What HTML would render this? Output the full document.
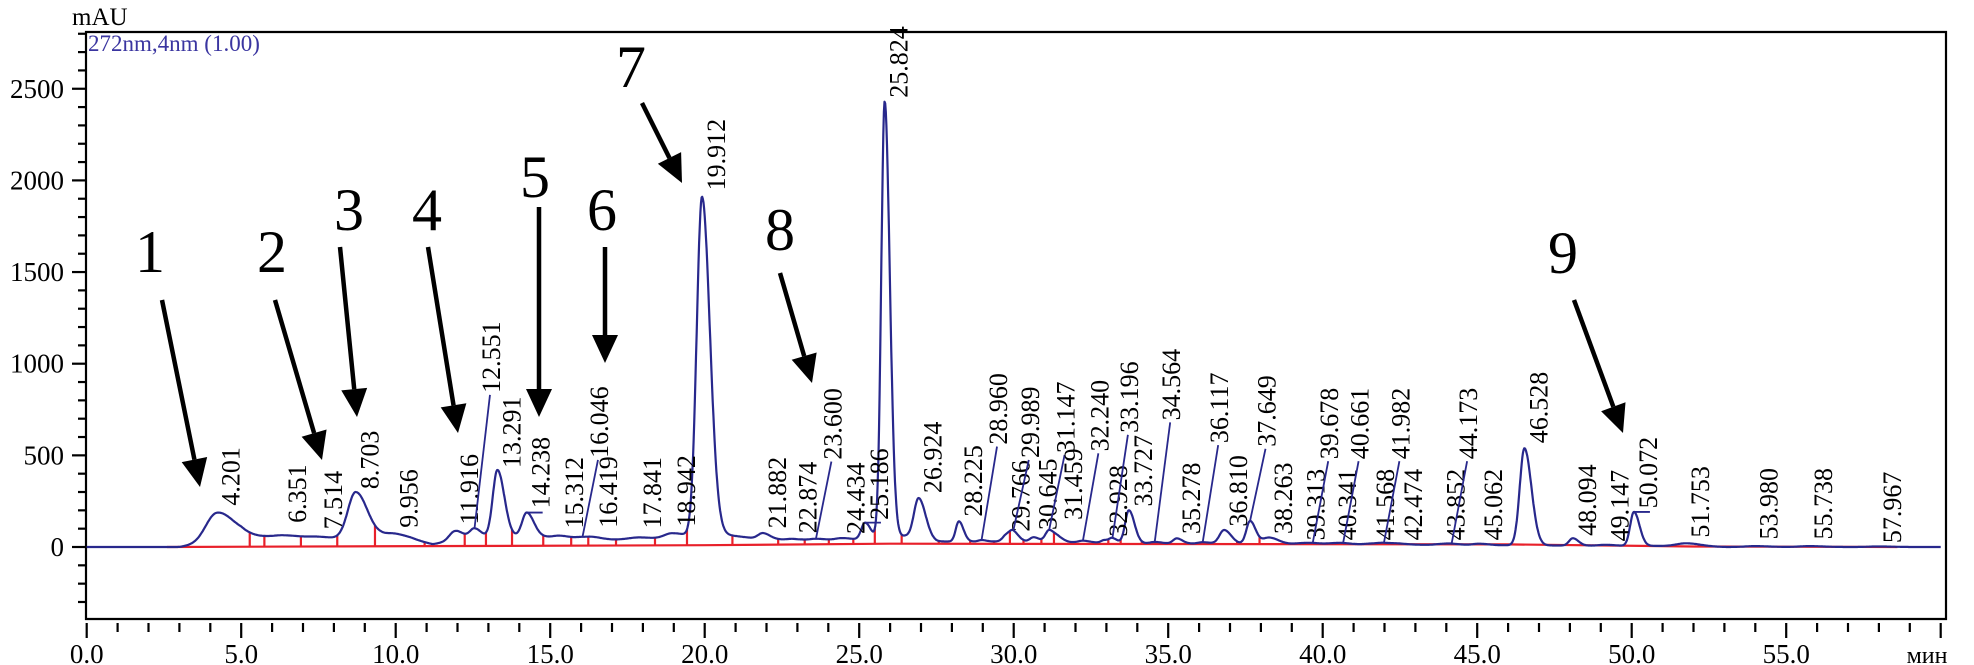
<!DOCTYPE html>
<html><head><meta charset="utf-8"><style>
html,body{margin:0;padding:0;background:#fff;}
svg{display:block;font-family:"Liberation Serif",serif;}
</style></head><body>
<svg id="chart" width="1974" height="665" viewBox="0 0 1974 665" xmlns="http://www.w3.org/2000/svg">
<text x="72" y="25" font-size="25">mAU</text>
<text x="88" y="51" font-size="23" fill="#3a35a0">272nm,4nm (1.00)</text>
<g id="axes"></g>
<g id="red"></g>
<g id="trace"></g>
<g id="labels"></g>
<g font-size="60" text-anchor="middle" fill="#000">
<text x="150" y="272">1</text>
<text x="272" y="272">2</text>
<text x="349" y="230">3</text>
<text x="427" y="230">4</text>
<text x="535" y="197">5</text>
<text x="602" y="230">6</text>
<text x="631" y="87">7</text>
<text x="780" y="250">8</text>
<text x="1563" y="273">9</text>
</g>
<g id="arrows"></g>
</svg>
<script>
const peakTimes=[4.201,6.351,7.514,8.703,9.956,11.916,12.551,13.291,14.238,15.312,16.046,16.419,17.841,18.942,19.912,21.882,22.874,23.600,24.434,25.186,25.824,26.924,28.225,28.960,29.766,29.989,30.645,31.147,31.459,32.240,32.928,33.196,33.727,34.564,35.278,36.117,36.810,37.649,38.263,39.313,39.678,40.341,40.661,41.568,41.982,42.474,43.852,44.173,45.062,46.528,48.094,49.147,50.072,51.753,53.980,55.738,57.967];
const peakHeights=[150,15,8,250,25,50,55,370,130,12,8,8,10,30,1850,30,8,8,10,90,2380,220,110,8,35,45,25,65,20,10,15,25,180,8,28,8,75,125,35,5,5,5,5,5,8,5,5,5,8,530,40,5,185,15,5,5,3];
const peakWidths=[0.35,0.4,0.3,0.25,0.3,0.18,0.15,0.15,0.15,0.2,0.2,0.2,0.3,0.25,0.17,0.15,0.2,0.2,0.2,0.12,0.11,0.15,0.1,0.1,0.12,0.12,0.12,0.12,0.12,0.15,0.1,0.1,0.12,0.15,0.12,0.15,0.15,0.12,0.2,0.2,0.2,0.2,0.2,0.2,0.2,0.2,0.2,0.2,0.2,0.15,0.12,0.2,0.12,0.3,0.3,0.3,0.3];
const labelValues=[215,121,85,305,94,112,830,420,200,90,475,94,90,100,1935,91,64,466,60,137,2440,283,155,548,73,475,82,502,137,511,46,612,210,680,60,556,100,536,60,25,468,25,468,25,468,25,25,468,25,555,50,20,200,40,30,30,10];
const leaderPeaks=[12.551,16.046,23.600,28.960,29.989,31.147,32.240,33.196,34.564,36.117,37.649,39.678,40.661,41.982,44.173];
const flagPeaks=[14.238,25.186,50.072];
const bgTimes=[0,3.0,3.6,5.0,6.0,8.0,9.5,10.5,11.2,12.0,14.5,15.3,17.0,19.0,20.5,21.5,23.0,25.0,26.5,27.5,30.0,34.0,40.0,45.0,52.0,53.0,60.0];
const bgValues=[0,0,15,65,50,45,55,40,15,40,60,50,40,45,70,50,35,40,60,30,30,20,15,10,5,0,0];
const redTimes=[2.6,20,26,46,52,58.6];
const redValues=[0,10,18,14,3,0];
const xTicks=[0,5,10,15,20,25,30,35,40,45,50,55];
const yTicks=[0,500,1000,1500,2000,2500];

const NS="http://www.w3.org/2000/svg";
const X0=86.7,PX=30.9,Y0=547,PY=0.1833,L=86,R=1946,T=32,B=619;
const xs=t=>X0+PX*t, ys=v=>Y0-PY*v;
function mk(tag,attrs,parent){const e=document.createElementNS(NS,tag);for(const k in attrs)e.setAttribute(k,attrs[k]);parent.appendChild(e);return e;}
function interp(ts,vs,t){if(t<=ts[0])return vs[0];for(let i=1;i<ts.length;i++){if(t<=ts[i]){const f=(t-ts[i-1])/(ts[i]-ts[i-1]);return vs[i-1]+f*(vs[i]-vs[i-1]);}}return vs[vs.length-1];}
function trace(t){let v=interp(bgTimes,bgValues,t);for(let i=0;i<peakTimes.length;i++){const d=t-peakTimes[i];const s=d>0?peakWidths[i]*1.5:peakWidths[i];v+=peakHeights[i]*Math.exp(-0.5*d*d/(s*s));}return v;}

const axes=document.getElementById('axes');
let a=mk('path',{d:`M${L} ${T}H${R}V${B}H${L}Z`,fill:'none',stroke:'#000','stroke-width':2.2},axes);

for(let v=-300;v<=2800;v+=100){const maj=v%500===0;const ln=mk('line',{x1:maj?72:78,x2:L,y1:ys(v),y2:ys(v),stroke:'#000','stroke-width':2.2},axes);
}
yTicks.forEach(v=>{const tx=mk('text',{x:64,y:ys(v)+9,'font-size':27,'text-anchor':'end'},axes);tx.textContent=v;
});
for(let t=0;t<=60;t++){const maj=t%5===0;const ln=mk('line',{x1:xs(t),x2:xs(t),y1:623,y2:maj?638:632,stroke:'#000','stroke-width':2.2},axes);
}
xTicks.forEach(t=>{const tx=mk('text',{x:xs(t),y:663,'font-size':27,'text-anchor':'middle'},axes);tx.textContent=t.toFixed(1);
});
const unit=mk('text',{x:1927,y:663,'font-size':24,'text-anchor':'middle'},axes);unit.textContent='мин';


const red=document.getElementById('red');
let rp=redTimes.map((t,i)=>`${i?'L':'M'}${xs(t).toFixed(1)} ${ys(redValues[i]).toFixed(1)}`).join('');
const rl=mk('path',{d:rp,fill:'none',stroke:'#e8202a','stroke-width':2.2},red);

for(let i=0;i<peakTimes.length-1;i++){const tb=(peakTimes[i]+peakTimes[i+1])/2;if(tb>52)break;
const tk=mk('line',{x1:xs(tb),x2:xs(tb),y1:ys(interp(redTimes,redValues,tb)),y2:ys(trace(tb)),stroke:'#e8202a','stroke-width':2.2},red);
}
const t0=mk('line',{x1:xs(5.75),x2:xs(5.75),y1:ys(2),y2:ys(trace(5.75)),stroke:'#e8202a','stroke-width':2.2},red);


const tg=document.getElementById('trace');
let d='';for(let t=0;t<=60.0001;t+=0.02){d+=(t?'L':'M')+xs(t).toFixed(1)+' '+ys(trace(t)).toFixed(1);}
const tp=mk('path',{d:d,fill:'none',stroke:'#28288c','stroke-width':2.2,'stroke-linejoin':'round'},tg);


const lg=document.getElementById('labels');
peakTimes.forEach((t,i)=>{
 const lead=leaderPeaks.indexOf(t)>=0;const flag=flagPeaks.indexOf(t)>=0;
 let ax,ay=ys(labelValues[i])-2;
 if(lead){const tt=t+0.5;const ln=mk('line',{x1:xs(t),y1:ys(trace(t)),x2:xs(tt),y2:ys(labelValues[i]),stroke:'#28288c','stroke-width':1.8},lg);
  ax=xs(tt)+10;}
 else ax=xs(t)+23;
 if(flag){const fl=mk('line',{x1:xs(t),y1:ys(trace(t)),x2:xs(t)+16,y2:ys(trace(t)),stroke:'#28288c','stroke-width':1.8},lg);
  }
 const tx=mk('text',{x:ax,y:ay,'font-size':26,transform:`rotate(-90 ${ax} ${ay})`},lg);
 tx.textContent=t.toFixed(3);
 
});

const arrows=[[162,300,200,487],[275,300,322,460],[340,247,357,417],[428,247,458,433],[539,207,539,417],[605,247,605,363],[642,103,682,183],[780,273,812,383],[1574,300,1623,433]];
const ag=document.getElementById('arrows');
arrows.forEach(([x1,y1,x2,y2])=>{const dx=x2-x1,dy=y2-y1,len=Math.hypot(dx,dy),ux=dx/len,uy=dy/len;const hl=28,hw=13;
 const bx=x2-ux*hl,by=y2-uy*hl;
 const ln=mk('line',{x1:x1,y1:y1,x2:bx,y2:by,stroke:'#000','stroke-width':4.5},ag);
 
 const hd=mk('polygon',{points:`${x2},${y2} ${bx-uy*hw},${by+ux*hw} ${bx+uy*hw},${by-ux*hw}`,fill:'#000'},ag);
 });
</script>
</body></html>
